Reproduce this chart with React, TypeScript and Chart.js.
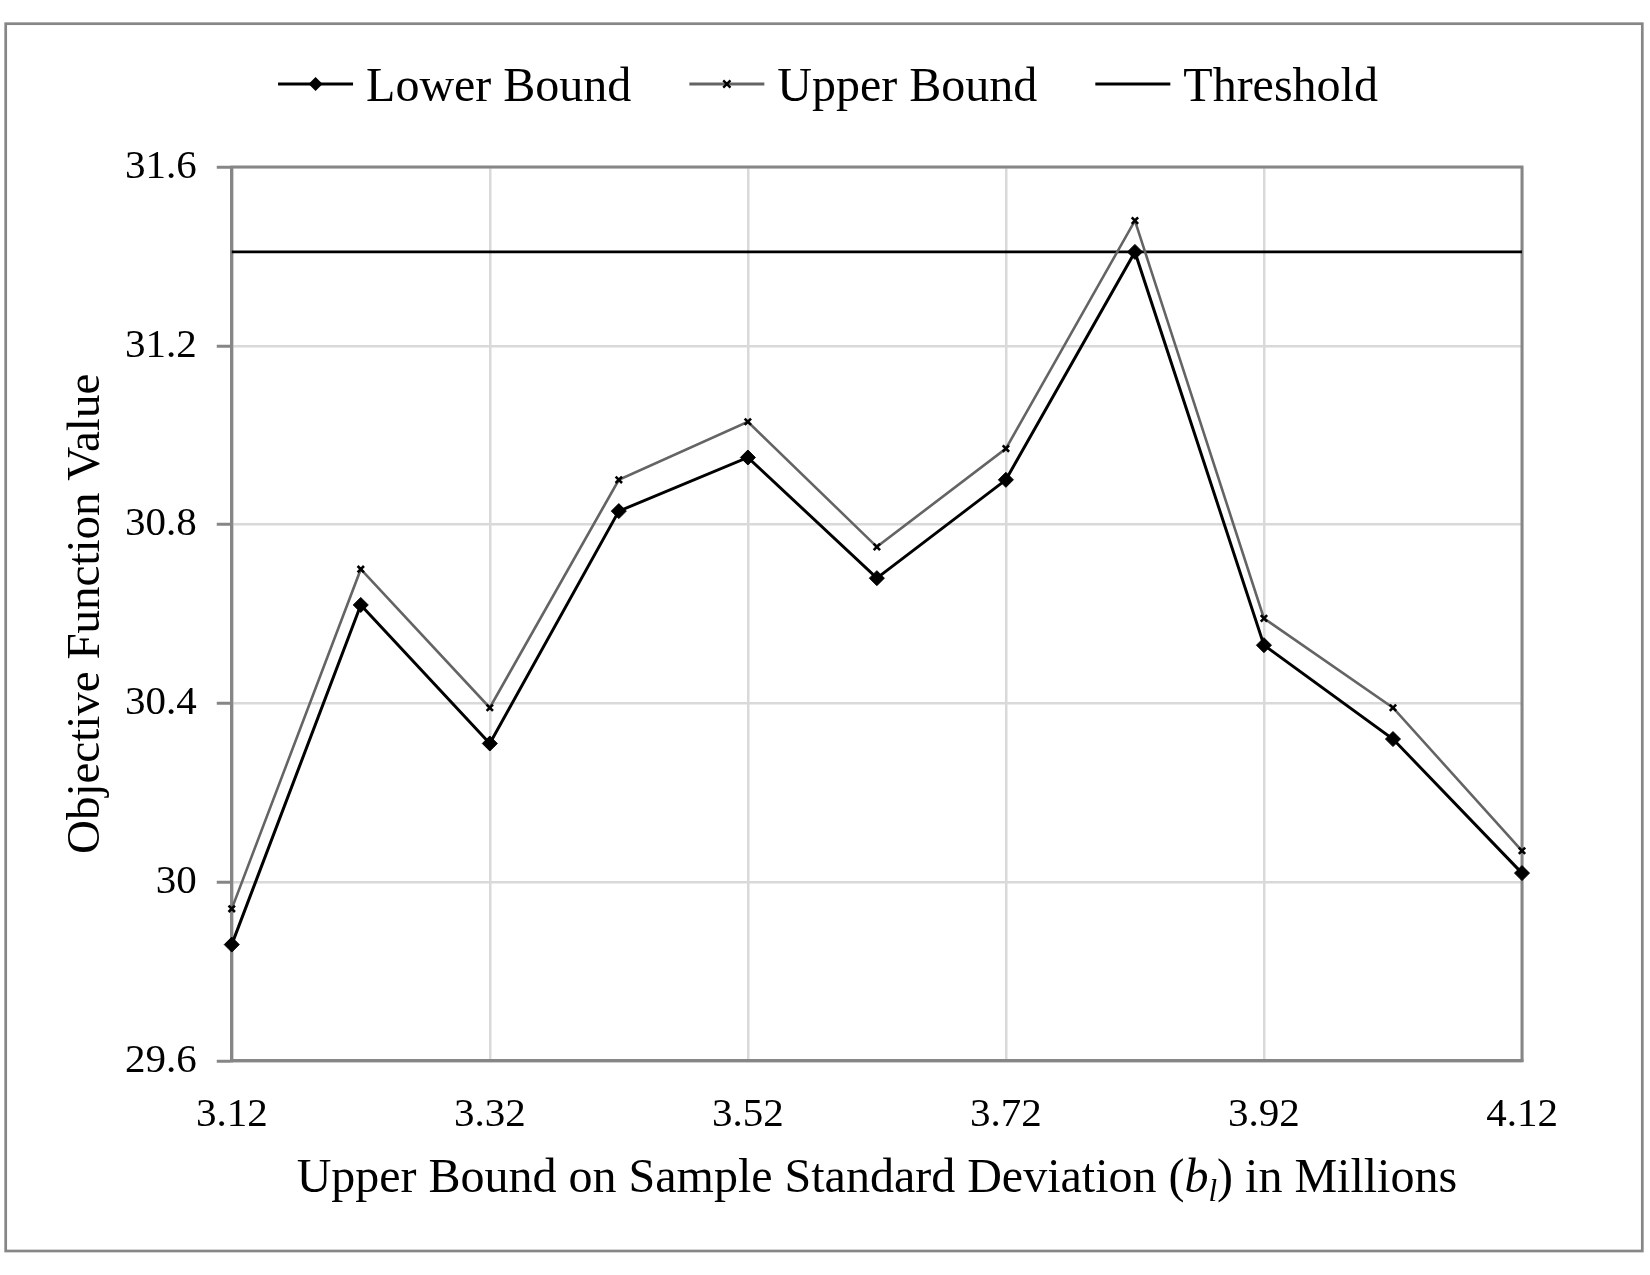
import React, { useEffect, useRef } from "react";
import { Chart, registerables } from "chart.js";

Chart.register(...registerables);

// Upper bound on sample standard deviation (millions)
const categories = ["3.12", "3.22", "3.32", "3.42", "3.52", "3.62", "3.72", "3.82", "3.92", "4.02", "4.12"];
// Objective function values
const lowerBound = [29.86, 30.62, 30.31, 30.83, 30.95, 30.68, 30.9, 31.41, 30.53, 30.32, 30.02];
const upperBound = [29.94, 30.7, 30.39, 30.9, 31.03, 30.75, 30.97, 31.48, 30.59, 30.39, 30.07];
const thresholdValue = 31.41;
const yTickValues = [29.6, 30, 30.4, 30.8, 31.2, 31.6];

const FONT = '"Liberation Serif", "Times New Roman", serif';
const AXIS_GREY = "#868686";
const GRID_GREY = "#d9d9d9";
const UPPER_GREY = "#646464";

type LegendItem = { label: string; color: string; width: number; marker: "diamond" | "cross" | "none" };
const legendItems: LegendItem[] = [
  { label: "Lower Bound", color: "#000000", width: 3, marker: "diamond" },
  { label: "Upper Bound", color: UPPER_GREY, width: 3, marker: "cross" },
  { label: "Threshold", color: "#000000", width: 3, marker: "none" },
];

function drawDiamond(ctx: CanvasRenderingContext2D, x: number, y: number, r: number) {
  ctx.beginPath();
  ctx.moveTo(x, y - r);
  ctx.lineTo(x + r, y);
  ctx.lineTo(x, y + r);
  ctx.lineTo(x - r, y);
  ctx.closePath();
  ctx.fill();
}

function drawCross(ctx: CanvasRenderingContext2D, x: number, y: number, r: number) {
  ctx.beginPath();
  ctx.moveTo(x - r, y - r);
  ctx.lineTo(x + r, y + r);
  ctx.moveTo(x + r, y - r);
  ctx.lineTo(x - r, y + r);
  ctx.stroke();
}

// Page background, outer frame and plot-area frame
const framePlugin = {
  id: "frame",
  beforeDraw(chart: any) {
    const ctx: CanvasRenderingContext2D = chart.ctx;
    ctx.save();
    ctx.fillStyle = "#ffffff";
    ctx.fillRect(0, 0, chart.width, chart.height);
    ctx.strokeStyle = AXIS_GREY;
    ctx.lineWidth = 2.7;
    ctx.strokeRect(5.7, 23.7, 1636.6, 1227.3);
    ctx.restore();
  },
  beforeDatasetsDraw(chart: any) {
    const ctx: CanvasRenderingContext2D = chart.ctx;
    const { left, top, right, bottom } = chart.chartArea;
    ctx.save();
    ctx.strokeStyle = AXIS_GREY;
    ctx.lineWidth = 3;
    ctx.strokeRect(left, top, right - left, bottom - top);
    ctx.restore();
  },
};

// Legend with line-and-marker swatches across the top
const legendPlugin = {
  id: "lineLegend",
  afterDraw(chart: any) {
    const ctx: CanvasRenderingContext2D = chart.ctx;
    const lineLen = 75;
    const textGap = 13;
    const itemGap = 58;
    const y = 84;
    ctx.save();
    ctx.font = `48px ${FONT}`;
    const widths = legendItems.map((it) => ctx.measureText(it.label).width);
    const total =
      widths.reduce((s, w) => s + w + lineLen + textGap, 0) + itemGap * (legendItems.length - 1);
    let x = chart.width / 2 - total / 2 + 3;
    legendItems.forEach((it, i) => {
      ctx.strokeStyle = it.color;
      ctx.lineWidth = it.width;
      ctx.beginPath();
      ctx.moveTo(x, y);
      ctx.lineTo(x + lineLen, y);
      ctx.stroke();
      const mx = x + lineLen / 2;
      if (it.marker === "diamond") {
        ctx.fillStyle = "#000";
        drawDiamond(ctx, mx, y, 7);
      } else if (it.marker === "cross") {
        ctx.strokeStyle = "#000";
        ctx.lineWidth = 2.4;
        drawCross(ctx, mx, y, 3.6);
      }
      ctx.fillStyle = "#000";
      ctx.textBaseline = "alphabetic";
      ctx.textAlign = "left";
      ctx.fillText(it.label, x + lineLen + textGap, 101);
      x += lineLen + textGap + widths[i] + itemGap;
    });
    ctx.restore();
  },
};

// Axis titles: vertical y title and an x title with an italic, subscripted symbol
const axisTitlePlugin = {
  id: "axisTitles",
  afterDraw(chart: any) {
    const ctx: CanvasRenderingContext2D = chart.ctx;
    const { left, right, top, bottom } = chart.chartArea;
    ctx.save();
    ctx.fillStyle = "#000";
    ctx.textBaseline = "alphabetic";

    // y title
    ctx.save();
    ctx.translate(99, (top + bottom) / 2);
    ctx.rotate(-Math.PI / 2);
    ctx.font = `47px ${FONT}`;
    ctx.textAlign = "center";
    ctx.fillText("Objective Function Value", 0, 0);
    ctx.restore();

    // x title
    const parts = [
      { text: "Upper Bound on Sample Standard Deviation (", font: `48px ${FONT}`, dy: 0 },
      { text: "b", font: `italic 48px ${FONT}`, dy: 0 },
      { text: "l", font: `italic 31px ${FONT}`, dy: 9 },
      { text: ") in Millions", font: `48px ${FONT}`, dy: 0 },
    ];
    const widths = parts.map((p) => {
      ctx.font = p.font;
      return ctx.measureText(p.text).width;
    });
    const total = widths.reduce((a, b) => a + b, 0);
    let x = (left + right) / 2 - total / 2;
    const baseline = 1192;
    ctx.textAlign = "left";
    parts.forEach((p, i) => {
      ctx.font = p.font;
      ctx.fillText(p.text, x, baseline + p.dy);
      x += widths[i];
    });
    ctx.restore();
  },
};

export default function App() {
  const canvasRef = useRef<HTMLCanvasElement | null>(null);

  useEffect(() => {
    if (!canvasRef.current) return;
    const chart = new Chart(canvasRef.current, {
      type: "line",
      data: {
        labels: categories,
        datasets: [
          {
            label: "Lower Bound",
            data: lowerBound,
            borderColor: "#000000",
            borderWidth: 3,
            pointStyle: "rectRot",
            pointRadius: 7.5,
            pointBackgroundColor: "#000000",
            pointBorderColor: "#000000",
            pointBorderWidth: 1,
            tension: 0,
            clip: false,
            order: 0,
          },
          {
            label: "Upper Bound",
            data: upperBound,
            borderColor: UPPER_GREY,
            borderWidth: 2.6,
            pointStyle: "crossRot",
            pointRadius: 4.5,
            pointBackgroundColor: "#000000",
            pointBorderColor: "#000000",
            pointBorderWidth: 2.6,
            tension: 0,
            clip: false,
            order: 1,
          },
          {
            label: "Threshold",
            data: categories.map(() => thresholdValue),
            borderColor: "#000000",
            borderWidth: 2.6,
            pointRadius: 0,
            tension: 0,
            clip: false,
            order: 2,
          },
        ],
      },
      options: {
        responsive: false,
        animation: false,
        events: [],
        devicePixelRatio: 1,
        layout: { padding: { top: 167, right: 128, bottom: 105, left: 105 } },
        plugins: {
          legend: { display: false },
          tooltip: { enabled: false },
        },
        scales: {
          x: {
            type: "category",
            offset: false,
            afterBuildTicks(scale: any) {
              scale.ticks = scale.ticks.filter((_t: any, i: number) => i % 2 === 0);
            },
            grid: {
              color: GRID_GREY,
              lineWidth: 2.5,
              drawTicks: false,
            },
            border: { color: AXIS_GREY, width: 3 },
            ticks: {
              autoSkip: false,
              maxRotation: 0,
              padding: 30,
              color: "#000",
              font: { family: FONT, size: 41 },
            },
          },
          y: {
            min: 29.6,
            max: 31.6,
            afterBuildTicks(scale: any) {
              scale.ticks = yTickValues.map((v) => ({ value: v }));
            },
            grid: {
              color: GRID_GREY,
              lineWidth: 2.5,
              drawTicks: true,
              tickLength: 15,
              tickColor: AXIS_GREY,
              tickWidth: 3,
            },
            border: { color: AXIS_GREY, width: 3 },
            ticks: {
              padding: 20,
              color: "#000",
              font: { family: FONT, size: 41 },
              callback: (v: any) => String(v),
            },
          },
        },
      },
      plugins: [framePlugin, legendPlugin, axisTitlePlugin],
    });
    return () => chart.destroy();
  }, []);

  return (
    <div style={{ position: "absolute", left: 0, top: 0, width: 1650, height: 1275, background: "#fff" }}>
      <canvas ref={canvasRef} width={1650} height={1275} style={{ display: "block", width: 1650, height: 1275 }} />
    </div>
  );
}
